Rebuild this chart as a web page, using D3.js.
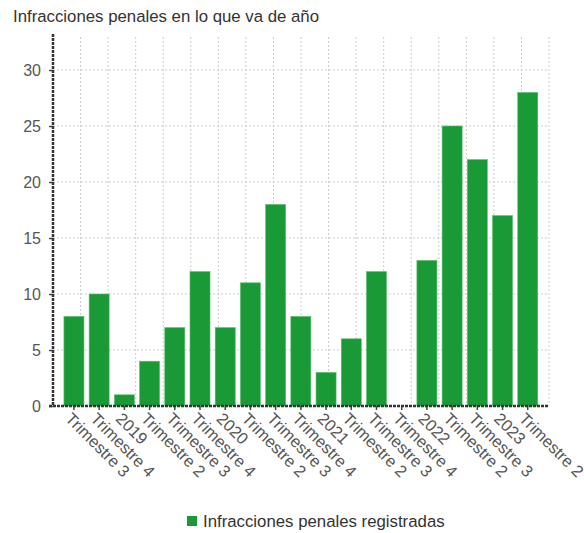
<!DOCTYPE html>
<html>
<head>
<meta charset="utf-8">
<script src="https://cdn.jsdelivr.net/npm/d3@7"></script>
<style>
  body { margin: 0; background: #fff; }
  text { font-family: "Liberation Sans", Arial, sans-serif; }
</style>
</head>
<body>
<div class="chart"></div>
<script>
var categories = ["Trimestre 3", "Trimestre 4", "2019", "Trimestre 2", "Trimestre 3", "Trimestre 4",
  "2020", "Trimestre 2", "Trimestre 3", "Trimestre 4", "2021", "Trimestre 2", "Trimestre 3",
  "Trimestre 4", "2022", "Trimestre 2", "Trimestre 3", "2023", "Trimestre 2"];
var values = [8, 10, 1, 4, 7, 12, 7, 11, 18, 8, 3, 6, 12, 0, 13, 25, 22, 17, 28];
var yTicks = [0, 5, 10, 15, 20, 25, 30];
var seriesName = "Infracciones penales registradas";
var title = "Infracciones penales en lo que va de año";

var svgWidth = 584;
var svgHeight = 533;

var margin = { top: 37, right: 35, bottom: 127, left: 53 };
var width = svgWidth - margin.left - margin.right;
var height = svgHeight - margin.top - margin.bottom;

var svg = d3.select(".chart")
  .append("svg")
  .attr("width", svgWidth)
  .attr("height", svgHeight);

svg.append("text")
  .attr("x", 13)
  .attr("y", 22)
  .attr("fill", "#333")
  .style("font-size", "16.8px")
  .text(title);

var chartGroup = svg.append("g")
  .attr("transform", `translate(${margin.left}, ${margin.top})`);

var yScale = d3.scaleLinear()
  .domain([0, 30])
  .range([height, height - 30 * 11.2]);

var xScale = d3.scaleBand()
  .domain(d3.range(categories.length))
  .range([8.4, 487.3])
  .paddingInner(0.205)
  .paddingOuter(0.1);

// grid: horizontal at y ticks, vertical in 18 even divisions
chartGroup.selectAll(".hgrid")
  .data(yTicks.slice(1))
  .enter()
  .append("line")
  .attr("x1", 0)
  .attr("x2", width)
  .attr("y1", d => yScale(d))
  .attr("y2", d => yScale(d))
  .attr("stroke", "#ccc")
  .attr("stroke-dasharray", "2,2");

var gridX = d3.scaleLinear().domain([0, 18]).range([0, width]);
chartGroup.selectAll(".vgrid")
  .data(d3.range(1, 19))
  .enter()
  .append("line")
  .attr("x1", d => gridX(d))
  .attr("x2", d => gridX(d))
  .attr("y1", 0)
  .attr("y2", height)
  .attr("stroke", "#ccc")
  .attr("stroke-dasharray", "2,2");

// bars
chartGroup.selectAll("rect")
  .data(values)
  .enter()
  .append("rect")
  .attr("x", (d, i) => xScale(i))
  .attr("y", d => yScale(d))
  .attr("width", xScale.bandwidth())
  .attr("height", d => height - yScale(d))
  .attr("fill", "#1a9a37")
  .attr("stroke", "#5cbf6f")
  .attr("stroke-width", 0.6);

// y axis
var leftAxis = d3.axisLeft(yScale).tickValues(yTicks).tickSize(4).tickPadding(8);
var yAxisG = chartGroup.append("g").call(leftAxis);
yAxisG.select(".domain").remove();
yAxisG.selectAll(".tick line").attr("stroke", "#444").attr("stroke-width", 1.5);
yAxisG.selectAll("text")
  .attr("fill", "#555")
  .style("font-size", "16px");

chartGroup.append("line")
  .attr("x1", 0).attr("x2", 0)
  .attr("y1", -3).attr("y2", height)
  .attr("stroke", "#333")
  .attr("stroke-width", 2.5)
  .attr("stroke-dasharray", "3,1");

// x axis
var bottomAxis = d3.axisBottom(xScale)
  .tickFormat(i => categories[i])
  .tickSize(4)
  .tickPadding(4);
var xAxisG = chartGroup.append("g")
  .attr("transform", `translate(0, ${height})`)
  .call(bottomAxis);
xAxisG.select(".domain").remove();
xAxisG.selectAll(".tick line").attr("stroke", "#444").attr("stroke-width", 1.5);
xAxisG.selectAll("text")
  .attr("fill", "#555")
  .style("font-size", "16.5px")
  .attr("text-anchor", "start")
  .attr("dy", "0.6em")
  .attr("transform", "translate(3, 1) rotate(45)");

chartGroup.append("line")
  .attr("x1", -4).attr("x2", width)
  .attr("y1", height).attr("y2", height)
  .attr("stroke", "#333")
  .attr("stroke-width", 2.5)
  .attr("stroke-dasharray", "3,1");

// legend
var legend = svg.append("g").attr("transform", "translate(187, 516)");
legend.append("rect")
  .attr("width", 10)
  .attr("height", 10)
  .attr("fill", "#1a9a37");
legend.append("text")
  .attr("x", 16)
  .attr("y", 11)
  .attr("fill", "#333")
  .style("font-size", "16.8px")
  .text(seriesName);
</script>
</body>
</html>
